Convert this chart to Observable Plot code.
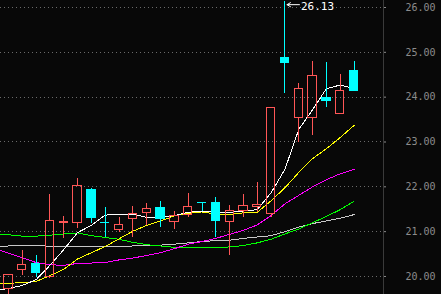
<!DOCTYPE html>
<html><head><meta charset="utf-8">
<script src="https://cdn.jsdelivr.net/npm/d3@7"></script>
<script src="https://cdn.jsdelivr.net/npm/@observablehq/plot@0.6"></script>
<style>html,body{margin:0;padding:0;background:#080808;overflow:hidden}</style>
</head><body><div id="chart"></div>
<script>
// Candles (index 0..25)
const opens  = [19.73,20.15,20.27,19.98,21.19,21.19,21.94,21.20,21.04,21.28,21.42,21.52,21.22,21.38,21.65,21.63,21.22,21.46,21.56,21.40,24.88,23.54,23.54,23.99,23.62,24.59];
const highs  = [20.04,20.58,20.46,21.83,21.33,22.19,21.96,21.53,21.32,21.56,21.62,21.67,21.44,21.84,21.66,21.77,21.58,21.83,22.10,23.75,26.13,24.30,24.80,24.77,24.51,24.80];
const lows   = [19.50,20.02,19.98,19.96,20.84,21.06,21.18,20.86,20.97,20.88,21.13,21.10,21.05,21.32,21.45,20.88,20.47,21.32,21.42,21.31,24.09,22.99,23.15,23.78,23.62,24.12];
const closes = [20.04,20.26,20.07,21.23,21.22,22.01,21.30,21.19,21.15,21.40,21.51,21.28,21.34,21.56,21.64,21.23,21.46,21.58,21.59,23.75,24.77,24.19,24.48,23.91,24.13,24.13];

// Moving averages (index -1..25)
const maStart = -1;
const ma5  = [19.69,19.73,19.80,19.93,20.25,20.60,20.98,21.14,21.37,21.38,21.39,21.32,21.32,21.36,21.43,21.46,21.43,21.43,21.46,21.49,21.87,22.39,23.28,23.72,24.19,24.27,24.19];
const ma10 = [19.84,19.85,19.86,19.89,20.02,20.16,20.39,20.53,20.67,20.84,21.01,21.14,21.24,21.35,21.41,21.44,21.39,21.38,21.42,21.43,21.69,21.98,22.32,22.63,22.85,23.10,23.37];
const ma20 = [20.62,20.52,20.42,20.31,20.26,20.25,20.29,20.30,20.31,20.37,20.41,20.47,20.53,20.62,20.72,20.78,20.85,20.94,21.03,21.15,21.36,21.62,21.81,22.00,22.16,22.29,22.39];
const ma30 = [20.94,20.93,20.90,20.90,20.92,20.95,20.97,20.91,20.87,20.83,20.76,20.71,20.68,20.65,20.64,20.64,20.64,20.66,20.69,20.75,20.83,20.95,21.06,21.20,21.34,21.49,21.68];
const ma60 = [20.66,20.68,20.70,20.70,20.67,20.67,20.67,20.67,20.67,20.67,20.68,20.69,20.70,20.72,20.75,20.78,20.80,20.81,20.85,20.88,20.91,21.00,21.10,21.18,21.24,21.30,21.38];

const yTicks = [20,21,22,23,24,25,26];
const yTickLabels = ["20.00","21.00","22.00","23.00","24.00","25.00","26.00"];

const peakIndex = 20;
const peakLabel = "26.13";

const UP = "#ff5656", DOWN = "#00ffff";

const candles = opens.map((o, i) => ({
  i, open: o, high: highs[i], low: lows[i], close: closes[i],
  up: closes[i] >= o, top: Math.max(o, closes[i]), bot: Math.min(o, closes[i])
}));
const maSeries = [
  {name: "MA60", color: "#c8c8c8", values: ma60},
  {name: "MA30", color: "#00ff00", values: ma30},
  {name: "MA20", color: "#ff00ff", values: ma20},
  {name: "MA10", color: "#ffff00", values: ma10},
  {name: "MA5",  color: "#ffffff", values: ma5}
];
const lineMarks = maSeries.map(s =>
  Plot.line(s.values.map((v, k) => ({i: k + maStart, v})), {x: "i", y: "v", stroke: s.color, strokeWidth: 1, clip: true, shapeRendering: "crispEdges"})
);
const upC = candles.filter(d => d.up), downC = candles.filter(d => !d.up);
const crisp = {shapeRendering: "crispEdges"};

const chart = Plot.plot({
  width: 441, height: 294,
  marginLeft: 0, marginRight: 58, marginTop: 0, marginBottom: 0,
  style: {background: "#080808", color: "#8c8c8c"},
  x: {type: "linear", domain: [-0.579, 27.13], axis: null},
  y: {domain: [19.598, 26.156], axis: null},
  marks: [
    Plot.ruleY(yTicks, {stroke: "#6a6a6a", strokeDasharray: "1,3", ...crisp}),
    Plot.frame({anchor: "right", stroke: "#3a3a3a", ...crisp}),
    Plot.axisY(yTicks, {anchor: "right", tickSize: 2, tickPadding: 20,
      tickFormat: d => yTickLabels[yTicks.indexOf(d)],
      color: "#8c8c8c", fontSize: 10, fontFamily: "DejaVu Sans Mono"}),
    ...lineMarks,
    // wicks
    Plot.ruleX(downC, {x: "i", y1: "low", y2: "high", stroke: DOWN, strokeWidth: 1, ...crisp}),
    Plot.ruleX(upC, {x: "i", y1: "top", y2: "high", stroke: UP, strokeWidth: 1, clip: true, ...crisp}),
    Plot.ruleX(upC, {x: "i", y1: "low", y2: "bot", stroke: UP, strokeWidth: 1, clip: true, ...crisp}),
    // bodies
    Plot.rect(upC, {x1: d => d.i - 0.3, x2: d => d.i + 0.3, y1: "bot", y2: "top", fill: "none", stroke: UP, strokeWidth: 1, clip: true, ...crisp}),
    Plot.rect(downC, {x1: d => d.i - 0.3, x2: d => d.i + 0.3, y1: "bot", y2: "top", fill: DOWN, stroke: DOWN, strokeWidth: 1, ...crisp}),
    // peak annotation
    Plot.arrow([candles[peakIndex]], {x1: d => d.i + 1.05, x2: d => d.i + 0.15, y1: "high", y2: "high", stroke: "#ffffff", strokeWidth: 1, headLength: 6, dy: 3}),
    Plot.text([candles[peakIndex]], {x: "i", y: "high", text: () => peakLabel, dx: 16, dy: 8, textAnchor: "start", lineAnchor: "bottom", fill: "#ffffff", fontSize: 11, fontFamily: "DejaVu Sans Mono"})
  ]
});
document.getElementById("chart").appendChild(chart);
</script>
</body></html>
